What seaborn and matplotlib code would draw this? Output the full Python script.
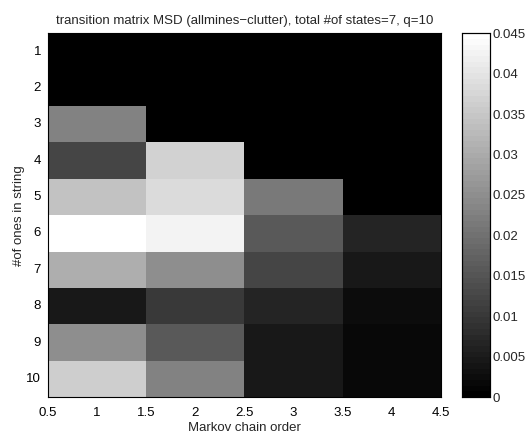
import numpy as np
import pandas as pd
import matplotlib
matplotlib.use('Agg')
import matplotlib.pyplot as plt
import seaborn as sns

# MSD values, rows = #of ones in string (1..10), cols = Markov chain order (1..4)
orders = [1, 2, 3, 4]
ones = [1, 2, 3, 4, 5, 6, 7, 8, 9, 10]
order1 = [0.0, 0.0, 0.0226, 0.0122, 0.0339, 0.0450, 0.0304, 0.0049, 0.0247, 0.0360]
order2 = [0.0, 0.0, 0.0, 0.0367, 0.0381, 0.0424, 0.0247, 0.0099, 0.0155, 0.0226]
order3 = [0.0, 0.0, 0.0, 0.0, 0.0212, 0.0155, 0.0120, 0.0064, 0.0049, 0.0049]
order4 = [0.0, 0.0, 0.0, 0.0, 0.0, 0.0064, 0.0049, 0.0028, 0.0021, 0.0021]
xtick_labels = ['0.5', '1', '1.5', '2', '2.5', '3', '3.5', '4', '4.5']
cbar_ticks = [0, 0.005, 0.01, 0.015, 0.02, 0.025, 0.03, 0.035, 0.04, 0.045]
cbar_labels = ['0', '0.005', '0.01', '0.015', '0.02', '0.025', '0.03', '0.035', '0.04', '0.045']

df = pd.DataFrame({1: order1, 2: order2, 3: order3, 4: order4}, index=ones)

sns.set_style('ticks')
plt.rcParams['font.family'] = ['Liberation Sans', 'DejaVu Sans']
fs = 9.5

fig = plt.figure(figsize=(5.28, 4.33), dpi=100)
ax = fig.add_axes([0.091, 0.083, 0.744, 0.840])
cax = fig.add_axes([0.875, 0.083, 0.053, 0.840])

sns.heatmap(df, ax=ax, cbar_ax=cax, cmap=plt.get_cmap('gray', 64),
            vmin=0, vmax=0.045, cbar_kws={'ticks': cbar_ticks})

ax.set_xticks(np.arange(0, 4.01, 0.5))
ax.set_xticklabels(xtick_labels, rotation=0)
ax.set_yticks(np.arange(0.5, 10, 1))
ax.set_yticklabels([str(v) for v in ones], rotation=0)
ax.tick_params(direction='in', length=4, width=0.6, labelsize=fs, top=True, right=True,
               labeltop=False, labelright=False, colors='black', pad=5)
ax.tick_params(axis='x', pad=7)
for s in ax.spines.values():
    s.set_visible(True)
    s.set_linewidth(0.8)
    s.set_color('black')
ax.set_xlabel('Markov chain order', fontsize=fs, labelpad=2)
ax.set_ylabel('#of ones in string', fontsize=fs, labelpad=1)
ax.set_title('transition matrix MSD (allmines\u2212clutter), total #of states=7, q=10',
             fontsize=fs, pad=7)

cax.set_yticklabels(cbar_labels)
cax.tick_params(direction='in', length=4, width=0.6, labelsize=fs, left=True, right=True, pad=2)
for s in cax.spines.values():
    s.set_visible(True)
    s.set_linewidth(0.8)
    s.set_color('black')

fig.savefig('out.png', dpi=100)
